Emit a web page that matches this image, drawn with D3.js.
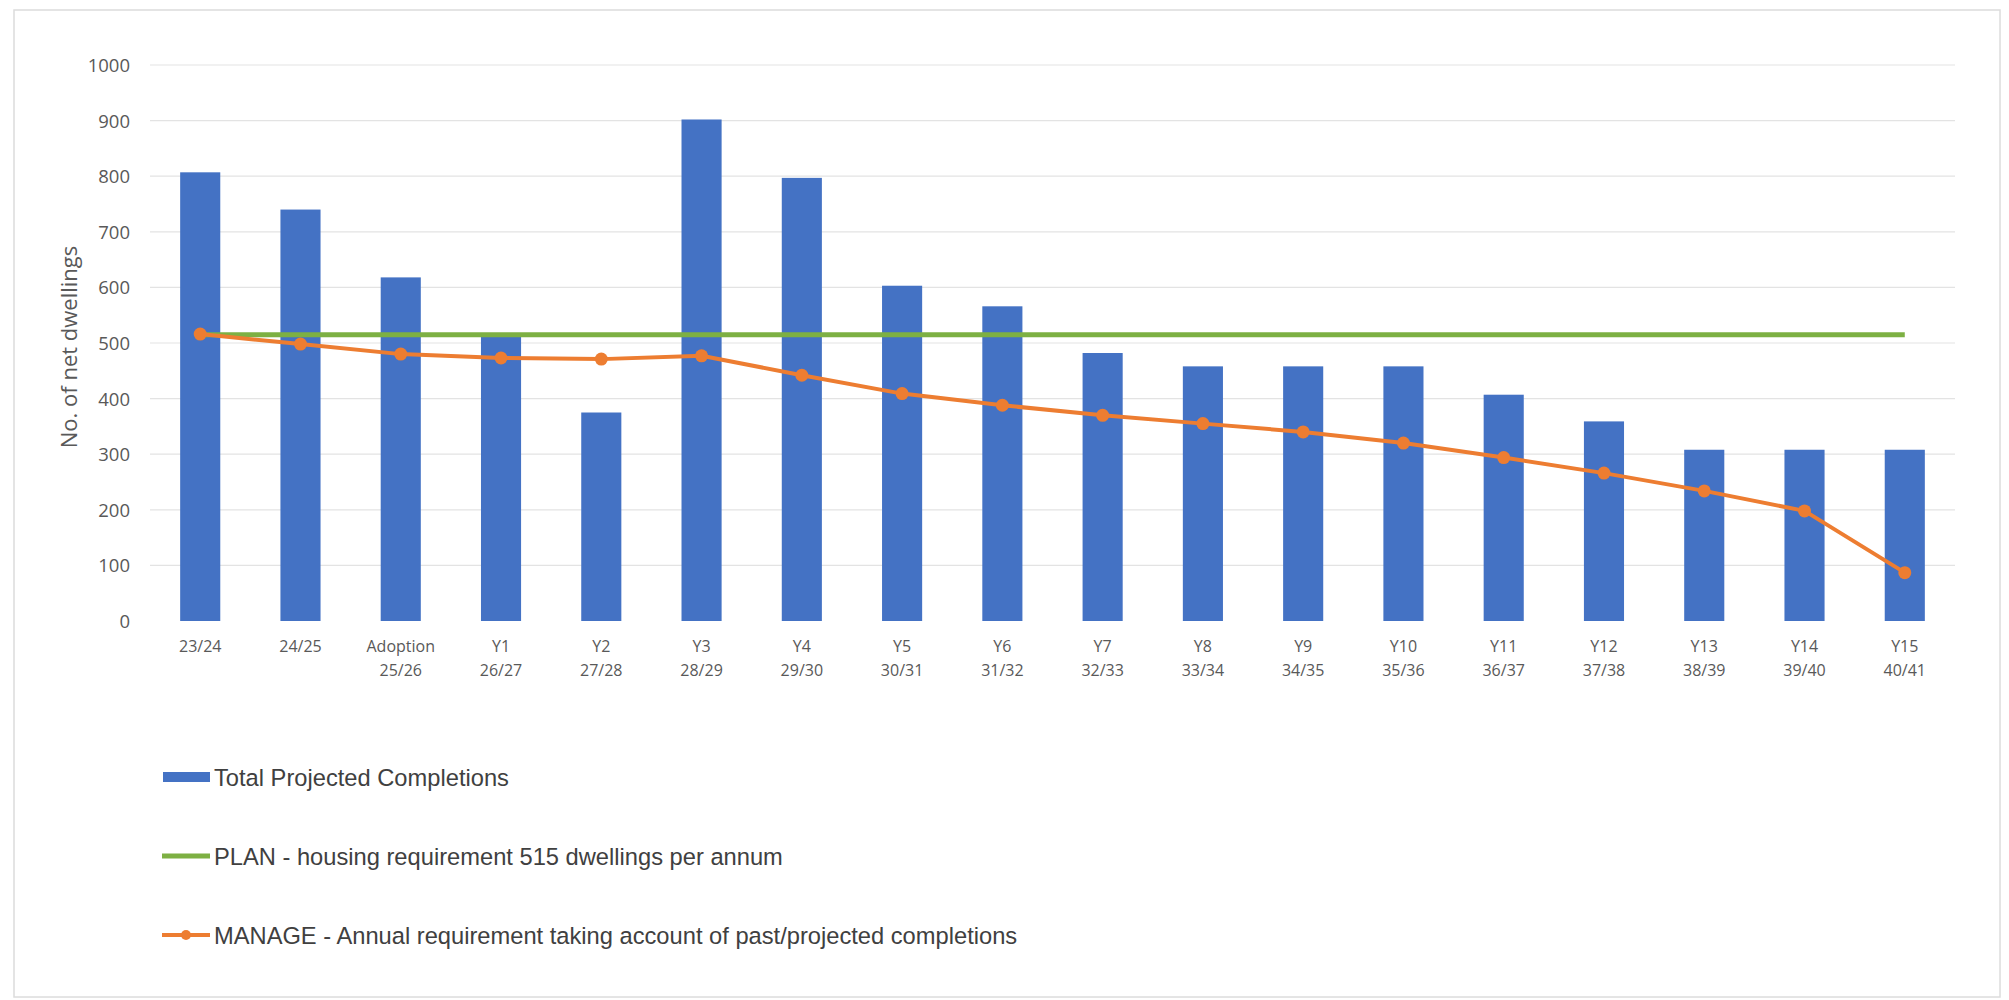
<!DOCTYPE html>
<html>
<head>
<meta charset="utf-8">
<script src="https://cdn.jsdelivr.net/npm/d3@7"></script>
<style>
  html, body { margin: 0; padding: 0; background: #ffffff; }
  svg { display: block; }
</style>
</head>
<body>
<div id="chart"></div>
<script>
// ---- Data ----
const categoriesTop = ["23/24", "24/25", "Adoption", "Y1", "Y2", "Y3", "Y4", "Y5", "Y6", "Y7", "Y8", "Y9", "Y10", "Y11", "Y12", "Y13", "Y14", "Y15"];
const categoriesBottom = ["", "", "25/26", "26/27", "27/28", "28/29", "29/30", "30/31", "31/32", "32/33", "33/34", "34/35", "35/36", "36/37", "37/38", "38/39", "39/40", "40/41"];
const totalProjectedCompletions = [807, 740, 618, 516, 375, 902, 797, 603, 566, 482, 458, 458, 458, 407, 359, 308, 308, 308];
const planRequirement = [515, 515, 515, 515, 515, 515, 515, 515, 515, 515, 515, 515, 515, 515, 515, 515, 515, 515];
const manageRequirement = [516, 498, 480, 473, 471, 477, 442, 409, 388, 370, 355, 340, 320, 294, 266, 234, 198, 87];
const yTicks = [0, 100, 200, 300, 400, 500, 600, 700, 800, 900, 1000];
const yAxisTitle = "No. of net dwellings";
const legendLabels = [
  "Total Projected Completions",
  "PLAN - housing requirement 515 dwellings per annum",
  "MANAGE - Annual requirement taking account of past/projected completions"
];

// ---- Layout ----
const W = 2009, H = 1000;
const BLUE = "#4472C4", GREEN = "#7DB043", ORANGE = "#ED7D31";
const TXT = "#595959";

const svg = d3.select("#chart").append("svg").attr("width", W).attr("height", H);

// outer chart border
svg.append("rect").attr("x", 14).attr("y", 10).attr("width", 1986).attr("height", 987)
  .attr("fill", "#ffffff").attr("stroke", "#dcdcdc").attr("stroke-width", 1.5);

const keys = categoriesTop.map((d, i) => i);
const x = d3.scaleBand().domain(keys).range([120, 1985]).paddingInner(0.6).paddingOuter(0.6);
const y = d3.scaleLinear().domain([0, 1000]).range([621, 65]);
const cx = i => x(i) + x.bandwidth() / 2;

// gridlines
svg.append("g").selectAll("line").data(yTicks.filter(t => t > 0)).join("line")
  .attr("x1", 150).attr("x2", 1955)
  .attr("y1", d => y(d)).attr("y2", d => y(d))
  .attr("stroke", "#e3e3e3").attr("stroke-width", 1.2);

// y axis (labels only)
const yAxis = d3.axisLeft(y).tickValues(yTicks).tickSize(0).tickPadding(0).tickFormat(d3.format("d"));
const gy = svg.append("g").attr("transform", "translate(130,0)").call(yAxis);
gy.select(".domain").remove();
gy.selectAll("text").attr("font-family", "'Open Sans', sans-serif").attr("font-size", 18.5)
  .attr("fill", TXT).attr("dy", "0.35em");

// y axis title
svg.append("text").attr("transform", "translate(68,347) rotate(-90)")
  .attr("text-anchor", "middle").attr("dominant-baseline", "central")
  .attr("font-family", "'Open Sans', sans-serif").attr("font-size", 22).attr("fill", TXT)
  .text(yAxisTitle);

// bars
svg.append("g").selectAll("rect").data(totalProjectedCompletions).join("rect")
  .attr("x", (d, i) => x(i)).attr("width", x.bandwidth())
  .attr("y", d => y(d)).attr("height", d => y(0) - y(d))
  .attr("fill", BLUE);

// x axis labels
const xAxis = d3.axisBottom(x).tickSize(0).tickFormat(() => "");
const gx = svg.append("g").attr("transform", `translate(0,${y(0)})`).call(xAxis);
gx.select(".domain").remove();
gx.selectAll(".tick").each(function(i) {
  const t = d3.select(this);
  t.select("text").remove();
  const txt = t.append("text").attr("text-anchor", "middle")
    .attr("font-family", "'Open Sans', sans-serif").attr("font-size", 16).attr("fill", TXT);
  txt.append("tspan").attr("x", 0).attr("y", 31).text(categoriesTop[i]);
  if (categoriesBottom[i]) txt.append("tspan").attr("x", 0).attr("y", 55).text(categoriesBottom[i]);
});

// PLAN line
const line = d3.line().x((d, i) => cx(i)).y(d => y(d));
svg.append("path").datum(planRequirement).attr("d", line)
  .attr("fill", "none").attr("stroke", GREEN).attr("stroke-width", 5);

// MANAGE line
svg.append("path").datum(manageRequirement).attr("d", line)
  .attr("fill", "none").attr("stroke", ORANGE).attr("stroke-width", 4).attr("stroke-linejoin", "round");
svg.append("g").selectAll("circle").data(manageRequirement).join("circle")
  .attr("cx", (d, i) => cx(i)).attr("cy", d => y(d)).attr("r", 6.5)
  .attr("fill", ORANGE);

// legend
const lg = svg.append("g").attr("font-family", "'Liberation Sans', Arial, sans-serif")
  .attr("font-size", 23.7).attr("fill", "#404040");
const rowsY = [777, 856, 935];
lg.append("rect").attr("x", 163).attr("y", rowsY[0] - 5).attr("width", 47).attr("height", 10).attr("fill", BLUE);
lg.append("line").attr("x1", 162).attr("x2", 210).attr("y1", rowsY[1]).attr("y2", rowsY[1])
  .attr("stroke", GREEN).attr("stroke-width", 5);
lg.append("line").attr("x1", 162).attr("x2", 210).attr("y1", rowsY[2]).attr("y2", rowsY[2])
  .attr("stroke", ORANGE).attr("stroke-width", 4);
lg.append("circle").attr("cx", 186).attr("cy", rowsY[2]).attr("r", 5).attr("fill", ORANGE);
legendLabels.forEach((t, i) => {
  lg.append("text").attr("x", 214).attr("y", rowsY[i] + 8.5).text(t);
});
</script>
</body>
</html>
